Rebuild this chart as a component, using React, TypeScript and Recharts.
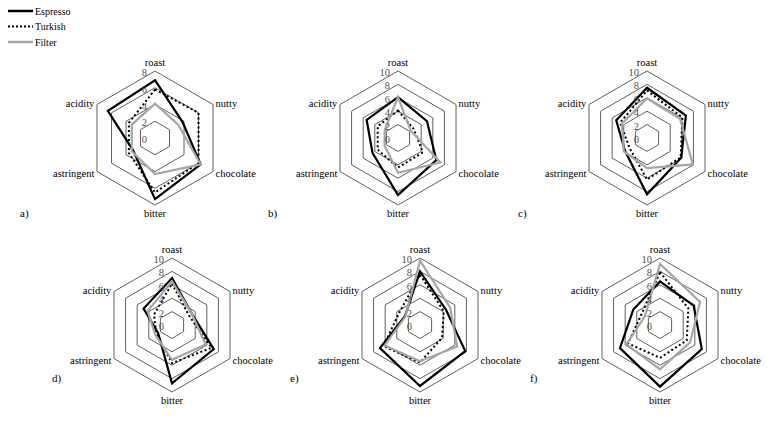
import React from "react";
import {
  RadarChart,
  Radar,
  PolarGrid,
  PolarAngleAxis,
  PolarRadiusAxis,
} from "recharts";

// sensory attributes, clockwise from the top
const attributes = ["roast", "nutty", "chocolate", "bitter", "astringent", "acidity"];

// panel a) scale 0-8
const espressoA = [6.9, 3.8, 6.3, 7.3, 3.0, 6.5];
const turkishA = [5.8, 6.0, 6.0, 6.5, 3.6, 3.6];
const filterA = [4.1, 3.2, 6.3, 4.3, 3.2, 3.2];

// panel b)
const espressoB = [6.1, 5.0, 6.6, 8.5, 4.4, 5.4];
const turkishB = [4.1, 2.7, 4.3, 4.4, 3.5, 3.5];
const filterB = [6.1, 2.2, 7.3, 5.2, 2.3, 2.3];

// panel c)
const espressoC = [7.5, 6.7, 5.9, 8.4, 3.8, 5.3];
const turkishC = [7.1, 6.1, 5.8, 6.2, 3.0, 4.6];
const filterC = [5.9, 5.7, 7.9, 4.5, 4.0, 4.3];

// panel d)
const espressoD = [7.0, 3.4, 7.2, 8.7, 2.4, 4.9];
const turkishD = [6.2, 2.9, 6.8, 5.7, 2.7, 3.1];
const filterD = [6.5, 3.4, 5.8, 5.2, 2.9, 4.2];

// panel e)
const espressoE = [8.0, 4.5, 7.8, 9.1, 6.9, 2.6];
const turkishE = [7.5, 4.1, 3.8, 5.6, 6.3, 3.6];
const filterE = [9.6, 5.2, 6.4, 5.4, 6.1, 2.5];

// panel f)
const espressoF = [6.5, 5.8, 7.2, 9.2, 6.9, 4.6];
const turkishF = [7.9, 4.9, 4.6, 4.9, 5.5, 3.2];
const filterF = [9.1, 6.9, 5.2, 6.6, 5.8, 2.6];

const panelLabels = ["a)", "b)", "c)", "d)", "e)", "f)"];
const panelMax = [8, 10, 10, 10, 10, 10];

const SERIF = '"Liberation Serif", "Times New Roman", Times, "DejaVu Serif", serif';

const buildRows = (e: number[], t: number[], f: number[]) =>
  attributes.map((attr, i) => ({ attr, espresso: e[i], turkish: t[i], filter: f[i] }));

const panels = [
  buildRows(espressoA, turkishA, filterA),
  buildRows(espressoB, turkishB, filterB),
  buildRows(espressoC, turkishC, filterC),
  buildRows(espressoD, turkishD, filterD),
  buildRows(espressoE, turkishE, filterE),
  buildRows(espressoF, turkishF, filterF),
];

// chart centres and caption spots on the page
const layout = [
  { cx: 155, cy: 138, lx: 20, ly: 215 },
  { cx: 398, cy: 138, lx: 268, ly: 215 },
  { cx: 647, cy: 138, lx: 518, ly: 215 },
  { cx: 172, cy: 325, lx: 52, ly: 380 },
  { cx: 420, cy: 325, lx: 290, ly: 380 },
  { cx: 660, cy: 325, lx: 530, ly: 380 },
];

const W = 240;
const H = 200;

const AngleTick = (props: any) => {
  const { x, y, payload, textAnchor } = props;
  const s = Math.sin((payload.coordinate * Math.PI) / 180);
  let dy = 3.5;
  if (textAnchor === "middle") dy = s > 0 ? -2 : 9;
  return (
    <text
      x={x}
      y={y}
      dy={dy}
      textAnchor={textAnchor}
      fill="#000"
      style={{ fontSize: 10.5, fontFamily: SERIF }}
    >
      {payload.value}
    </text>
  );
};

const RadiusTick = (props: any) => {
  const { x, y, payload } = props;
  return (
    <text
      x={x - 8}
      y={y}
      dy={5}
      textAnchor="end"
      fill="#505050"
      style={{ fontSize: 10.5, fontFamily: SERIF }}
    >
      {payload.value}
    </text>
  );
};

const Legend = () => (
  <svg width={90} height={55} style={{ position: "absolute", left: 0, top: 0 }}>
    <line x1={8} y1={11} x2={33} y2={11} stroke="#000" strokeWidth={2.5} />
    <text x={35} y={14.5} style={{ fontSize: 10, fontFamily: SERIF }}>Espresso</text>
    <line x1={8} y1={26.5} x2={33} y2={26.5} stroke="#000" strokeWidth={2} strokeDasharray="2 2" />
    <text x={35} y={30} style={{ fontSize: 10, fontFamily: SERIF }}>Turkish</text>
    <line x1={8} y1={42} x2={33} y2={42} stroke="#a6a6a6" strokeWidth={2.5} />
    <text x={35} y={45.5} style={{ fontSize: 10, fontFamily: SERIF }}>Filter</text>
  </svg>
);

export default function App() {
  return (
    <div
      style={{
        position: "absolute",
        left: 0,
        top: 0,
        width: 767,
        height: 428,
        background: "#fff",
        fontFamily: SERIF,
      }}
    >
      <Legend />
      {panels.map((rows, i) => {
        const pos = layout[i];
        const max = panelMax[i];
        return (
          <React.Fragment key={panelLabels[i]}>
            <div style={{ position: "absolute", left: pos.cx - W / 2, top: pos.cy - H / 2 }}>
              <RadarChart
                width={W}
                height={H}
                data={rows}
                cx={W / 2}
                cy={H / 2}
                outerRadius={67}
                margin={{ top: 0, right: 0, bottom: 0, left: 0 }}
              >
                <PolarGrid gridType="polygon" radialLines={false} stroke="#4d4d4d" strokeWidth={0.9} />
                <PolarAngleAxis
                  dataKey="attr"
                  tick={AngleTick}
                  tickLine={false}
                  axisLine={false}
                  tickSize={3}
                />
                <PolarRadiusAxis
                  angle={90}
                  domain={[0, max]}
                  tickCount={max / 2 + 1}
                  axisLine={false}
                  tickLine={false}
                  tick={RadiusTick}
                />
                <Radar
                  dataKey="espresso"
                  stroke="#000"
                  strokeWidth={2.2}
                  fill="none"
                  fillOpacity={0}
                  dot={false}
                  isAnimationActive={false}
                />
                <Radar
                  dataKey="turkish"
                  stroke="#000"
                  strokeWidth={2}
                  strokeDasharray="2 2.5"
                  fill="none"
                  fillOpacity={0}
                  dot={false}
                  isAnimationActive={false}
                />
                <Radar
                  dataKey="filter"
                  stroke="#a6a6a6"
                  strokeWidth={2.2}
                  fill="none"
                  fillOpacity={0}
                  dot={false}
                  isAnimationActive={false}
                />
              </RadarChart>
            </div>
            <div
              style={{
                position: "absolute",
                left: pos.lx,
                top: pos.ly - 8,
                fontSize: 11,
                fontFamily: SERIF,
              }}
            >
              {panelLabels[i]}
            </div>
          </React.Fragment>
        );
      })}
    </div>
  );
}
